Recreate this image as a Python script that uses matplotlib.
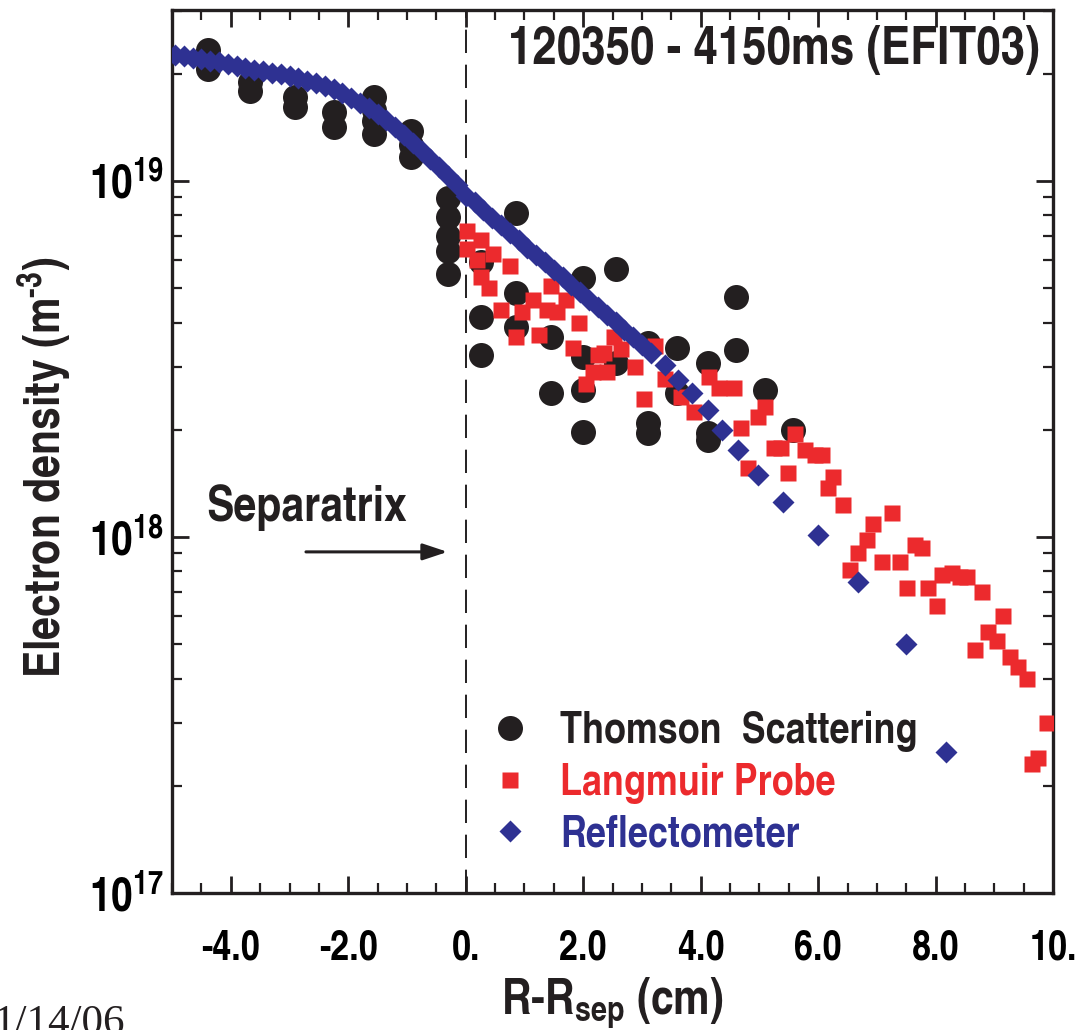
import matplotlib
matplotlib.use('Agg')
import matplotlib.pyplot as plt
from matplotlib.ticker import FixedLocator, FixedFormatter, LogLocator, NullFormatter, MultipleLocator
from matplotlib.lines import Line2D

FONT = ['TeX Gyre Heros Cn', 'DejaVu Sans']
plt.rcParams['font.family'] = FONT
plt.rcParams['font.weight'] = 'bold'
plt.rcParams['mathtext.fontset'] = 'custom'
plt.rcParams['mathtext.rm'] = 'TeX Gyre Heros Cn:bold'
plt.rcParams['mathtext.bf'] = 'TeX Gyre Heros Cn:bold'
plt.rcParams['mathtext.it'] = 'TeX Gyre Heros Cn:bold'
plt.rcParams['mathtext.sf'] = 'TeX Gyre Heros Cn:bold'
plt.rcParams['mathtext.default'] = 'rm'

# ---------------- data (densities in units of 1e18 m^-3) ----------------
ts_x = [-4.39, -4.39, -3.67, -3.67, -2.91, -2.91, -2.24, -2.24,
        -1.56, -1.56, -1.56, -1.56, -0.94, -0.94, -0.94,
        -0.31, -0.31, -0.31, -0.31, -0.31,
        0.26, 0.26, 0.26, 0.85, 0.85, 0.85, 1.45, 1.45,
        1.99, 1.99, 1.99, 1.99, 2.55, 2.55, 3.11, 3.11, 3.11,
        3.59, 3.59, 4.12, 4.12, 4.12, 4.61, 4.61, 5.10, 5.58]
ts_n = [23.3, 20.6, 19.0, 17.9, 17.2, 16.1, 15.6, 14.2,
        17.2, 15.8, 14.7, 13.5, 13.8, 12.6, 11.7,
        8.96, 7.93, 7.01, 6.36, 5.48,
        5.92, 4.15, 3.24, 8.13, 4.84, 3.89, 3.65, 2.54,
        5.35, 3.21, 2.59, 1.97, 5.66, 3.08, 3.51, 2.09, 1.96,
        3.40, 2.54, 3.08, 1.96, 1.87, 4.72, 3.35, 2.59, 2.00]

lp_x = [0.03, 0.03, 0.26, 0.46, 0.20, 0.75, 0.26, 0.39, 0.60, 0.85,
        0.95, 1.14, 1.24, 1.38, 1.55, 1.46, 1.70, 1.92, 1.82, 2.26,
        2.16, 2.40, 2.04, 2.52, 2.64, 2.35, 2.89, 3.03, 3.23, 3.40,
        3.66, 3.89, 4.15, 4.32, 4.56, 4.68, 4.81, 4.97, 5.10, 5.24,
        5.37, 5.49, 5.61, 5.78, 5.94, 6.07, 6.26, 6.17, 6.43, 6.94,
        7.26, 6.84, 6.68, 6.55, 7.09, 7.40, 7.65, 7.77, 7.52, 7.87,
        8.03, 8.11, 8.28, 8.42, 8.54, 8.79, 9.15, 8.89, 9.05, 8.67,
        9.27, 9.40, 9.56, 9.90, 9.64, 9.74]
lp_n = [7.24, 6.44, 6.82, 6.23, 6.00, 5.77, 5.37, 5.00, 4.34, 3.65,
        4.29, 4.63, 3.69, 4.34, 4.29, 5.07, 4.63, 3.99, 3.40, 3.24,
        2.91, 2.91, 2.69, 3.65, 3.38, 3.29, 3.01, 2.44, 3.44, 2.78,
        2.47, 2.24, 2.81, 2.62, 2.62, 2.02, 1.56, 2.17, 2.32, 1.78,
        1.78, 1.51, 1.95, 1.75, 1.70, 1.70, 1.47, 1.37, 1.23, 1.09,
        1.17, 0.98, 0.90, 0.81, 0.85, 0.85, 0.95, 0.93, 0.72, 0.72,
        0.64, 0.78, 0.79, 0.77, 0.77, 0.70, 0.60, 0.54, 0.51, 0.48,
        0.46, 0.43, 0.40, 0.30, 0.23, 0.24]

rf_x = [-4.95, -4.80, -4.65, -4.50, -4.35, -4.20, -4.05, -3.90, -3.75, -3.60,
        -3.45, -3.30, -3.15, -3.00, -2.85, -2.70, -2.55, -2.40, -2.25, -2.10,
        -1.95, -1.80, -1.65, -1.50, -1.35, -1.20, -1.05, -0.90, -0.75, -0.60,
        -0.45, -0.30, -0.15, 0.00, 0.15, 0.30, 0.45, 0.60, 0.75, 0.90,
        1.05, 1.20, 1.35, 1.50, 1.65, 1.80, 1.95, 2.10, 2.25, 2.40,
        2.55, 2.70, 2.85, 3.00, 3.15, 3.40, 3.62, 3.86, 4.12, 4.37,
        4.63, 4.97, 5.41, 5.99, 6.68, 7.50, 8.18]
rf_n = [22.54, 22.39, 22.18, 21.98, 21.78, 21.53, 21.23, 20.99, 20.75, 20.51,
        20.32, 20.14, 19.91, 19.68, 19.41, 19.14, 18.79, 18.45, 18.07, 17.62,
        17.10, 16.56, 16.00, 15.42, 14.79, 14.13, 13.46, 12.79, 12.16, 11.53,
        10.91, 10.30, 9.73, 9.05, 8.71, 8.28, 7.89, 7.52, 7.16, 6.82,
        6.50, 6.19, 5.90, 5.62, 5.36, 5.11, 4.86, 4.63, 4.42, 4.21,
        4.01, 3.82, 3.64, 3.47, 3.29, 3.04, 2.76, 2.54, 2.28, 2.00,
        1.75, 1.49, 1.25, 1.01, 0.748, 0.500, 0.249]

series_labels = ['Thomson  Scattering', 'Langmuir Probe', 'Reflectometer']
x_tick_vals = [-4, -2, 0, 2, 4, 6, 8, 10]
x_tick_labels = ['-4.0', '-2.0', '0.', '2.0', '4.0', '6.0', '8.0', '10.']
y_tick_vals = [1e17, 1e18, 1e19]
y_tick_labels = [r'$10^{17}$', r'$10^{18}$', r'$10^{19}$']
title_text = '120350 - 4150ms (EFIT03)'

BLACK = '#231f20'
RED = '#ec2a2d'
BLUE = '#2e3192'

scale = 1e18
fig = plt.figure(figsize=(10.76, 10.30), dpi=100)
ax = fig.add_axes([0.1599, 0.1330, 0.8188, 0.8573])

ax.plot(ts_x, [v * scale for v in ts_n], 'o', ms=18, color=BLACK, mec='none', zorder=3)
ax.plot(lp_x, [v * scale for v in lp_n], 's', ms=11.5, color=RED, mec='none', zorder=4)
ax.plot(rf_x, [v * scale for v in rf_n], 'D', ms=11.7, color=BLUE, mec='none', zorder=5)

ax.set_yscale('log')
ax.set_xlim(-5, 10)
ax.set_ylim(1e17, 3.02e19)

ax.axvline(0, color=BLACK, lw=1.4, ls=(0, (12, 6)), zorder=2)

ax.xaxis.set_major_locator(FixedLocator(x_tick_vals))
ax.xaxis.set_major_formatter(FixedFormatter(x_tick_labels))
ax.xaxis.set_minor_locator(MultipleLocator(0.5))
ax.yaxis.set_major_locator(FixedLocator(y_tick_vals))
ax.yaxis.set_major_formatter(FixedFormatter(y_tick_labels))
ax.yaxis.set_minor_locator(LogLocator(base=10, subs=[2, 3, 4, 5, 6, 7, 8, 9]))
ax.yaxis.set_minor_formatter(NullFormatter())

ax.tick_params(which='both', direction='in', top=True, right=True, color=BLACK)
ax.tick_params(which='major', length=12, width=2.0)
ax.tick_params(which='minor', length=7, width=1.6)
ax.tick_params(axis='x', which='major', pad=26, labelsize=30)
ax.tick_params(axis='y', which='major', pad=6, labelsize=34)
for s in ax.spines.values():
    s.set_linewidth(2.4)
    s.set_color(BLACK)

ax.set_xlabel(r'R-R$_{\mathrm{sep}}$ (cm)', fontsize=36, fontweight='bold', color=BLACK)
ax.xaxis.set_label_coords(0.5, -0.093)
ax.xaxis.label.set_va('top')
ax.set_ylabel(r'Electron density (m$^{\text{-3}}$)', fontsize=36, fontweight='bold', color=BLACK)
ax.yaxis.set_label_coords(-0.112, 0.482)

ax.text(9.78, 2.33e19, title_text, ha='right', va='center', fontsize=38.5, fontweight='bold', color=BLACK)
ax.text(-4.42, 1.21e18, 'Separatrix', ha='left', va='center', fontsize=36, fontweight='bold', color=BLACK)
ax.annotate('', xy=(-0.31, 9.08e17), xytext=(-2.72, 9.08e17),
            arrowprops=dict(arrowstyle='-|>,head_length=1.5,head_width=0.5', lw=2.2, color=BLACK,
                            shrinkA=0, shrinkB=0))

handles = [Line2D([], [], ls='none', marker='o', ms=18, color=BLACK, mec='none'),
           Line2D([], [], ls='none', marker='s', ms=11.5, color=RED, mec='none'),
           Line2D([], [], ls='none', marker='D', ms=11.7, color=BLUE, mec='none')]
leg = ax.legend(handles, series_labels, loc='upper left', bbox_to_anchor=(0.3587, 0.2061),
                frameon=False, prop={'family': FONT, 'weight': 'bold', 'size': 31.5},
                handlelength=1.0, handletextpad=0.64, labelspacing=0.24,
                borderpad=0, borderaxespad=0,
                labelcolor=[BLACK, RED, BLUE])

fig.text(-0.006, -0.004, '1/14/06', family='Liberation Serif', fontweight='normal',
         fontsize=31, ha='left', va='baseline', color=BLACK)

fig.savefig('out.png', dpi=100)
